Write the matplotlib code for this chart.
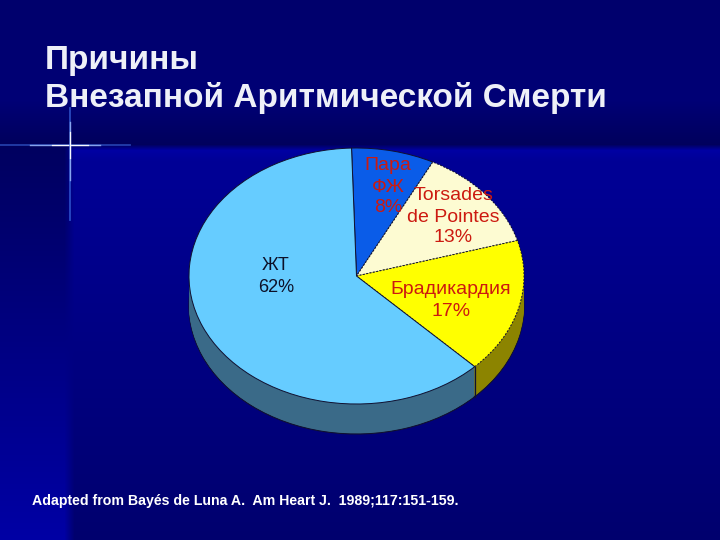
import numpy as np
import matplotlib
matplotlib.use("Agg")
import matplotlib.pyplot as plt

plt.rcParams['font.family'] = ['Liberation Sans', 'DejaVu Sans']

# Data
categories = ['Пара ФЖ', 'Torsades de Pointes', 'Брадикардия', 'ЖТ']
values = [8, 13, 17, 62]
top_colors = ['#0a5ce8', '#fdfbd2', '#ffff00', '#66ccff']
side_colors = ['#06348a', '#8c8a60', '#8c8400', '#3a6a88']
title_lines = ['Причины', 'Внезапной Аритмической Смерти']
source = 'Adapted from Bayés de Luna A.  Am Heart J.  1989;117:151-159.'

W, H = 720, 540
fig = plt.figure(figsize=(7.2, 5.4), dpi=100)

# Background
bg = fig.add_axes([0, 0, 1, 1])
bg.set_xlim(0, W); bg.set_ylim(H, 0); bg.axis('off')
yy, xx = np.mgrid[0:H, 0:W].astype(float)
top_band = np.interp(yy, [0, 100, 145], [108, 118, 92])
left_strip = np.interp(yy, [148, 540], [96, 165])
inner = np.interp(yy, [148, 160, 540], [165, 150, 110])
lower = left_strip + (inner - left_strip) * np.clip((xx - 64) / 10.0, 0, 1)
blue = top_band + (lower - top_band) * np.clip((yy - 144) / 6.0, 0, 1)
base = np.dstack([np.zeros_like(blue), np.zeros_like(blue), blue / 255.0])
bg.imshow(base, extent=(0, W, H, 0), aspect='auto', zorder=0, interpolation='bilinear')

# Sparkle
cx, cy = 70, 145
bg.plot([0, 130], [cy, cy], color='#3f6fe8', alpha=0.55, lw=1.3, zorder=1)
bg.plot([30, 100], [cy, cy], color='#9fbcff', alpha=0.8, lw=1.0, zorder=1)
bg.plot([52, 88], [cy, cy], color='white', alpha=0.95, lw=0.9, zorder=1)
bg.plot([cx, cx], [108, 220], color='#3f6fe8', alpha=0.65, lw=1.3, zorder=1)
bg.plot([cx, cx], [122, 180], color='#9fbcff', alpha=0.8, lw=1.0, zorder=1)
bg.plot([cx, cx], [132, 158], color='white', alpha=0.95, lw=0.9, zorder=1)

# Pie
pcx, pcy, rx, ry, depth = 356.5, 276, 167.5, 128, 30
start = 91.7
EDGE = '#101030'

def pie_axes(dy):
    return fig.add_axes([(pcx - rx) / W, 1 - (pcy + dy + ry) / H, 2 * rx / W, 2 * ry / H])

def draw_layer(dy, colors, visible, **wedgeprops):
    ax = pie_axes(dy)
    wedges, _ = ax.pie(values, colors=colors, startangle=start, counterclock=False, radius=1,
                       wedgeprops=wedgeprops)
    for w, v in zip(wedges, visible):
        w.set_visible(v)
    ax.set_xlim(-1, 1); ax.set_ylim(-1, 1); ax.set_aspect('auto'); ax.patch.set_alpha(0)
    return wedges

# side walls: the right-hand slices first, the big slice over them
draw_layer(depth, side_colors, [True, True, True, False], linewidth=0.8, edgecolor=EDGE)
for dy in range(depth - 1, 0, -1):
    draw_layer(dy, side_colors, [True, True, True, False], linewidth=0)
draw_layer(depth, side_colors, [False, False, False, True], linewidth=0.8, edgecolor=EDGE)
for dy in range(depth - 1, 0, -1):
    draw_layer(dy, side_colors, [False, False, False, True], linewidth=0)

wedges = draw_layer(0, top_colors, [True] * 4, linewidth=0.7, edgecolor=EDGE)
wedges[1].set_linestyle((0, (2, 1.5)))
wedges[2].set_linestyle((0, (2, 1.5)))

# Overlay
ov = fig.add_axes([0, 0, 1, 1])
ov.set_xlim(0, W); ov.set_ylim(H, 0); ov.axis('off'); ov.patch.set_alpha(0)

theta = np.deg2rad(start - 360 * sum(values[:3]) / sum(values))
ex, ey = pcx + rx * np.cos(theta), pcy - ry * np.sin(theta)
ov.plot([ex, ex], [ey, ey + depth], color=EDGE, lw=0.9)

ov.text(45, 60, title_lines[0], color='#eef0f8', fontsize=24, fontweight='bold', va='center', ha='left')
ov.text(45, 98, title_lines[1], color='#eef0f8', fontsize=24, fontweight='bold', va='center', ha='left')

red = '#cc1a10'
lab = dict(color=red, fontsize=14, ha='center', va='center')
ov.text(388, 165, 'Пара', **lab)
ov.text(388, 187, 'ФЖ', **lab)
ov.text(388, 207, f'{values[0]}%', **lab)
ov.text(454, 196, 'Torsades', **lab)
ov.text(453, 218, 'de Pointes', **lab)
ov.text(453, 238, f'{values[1]}%', **lab)
ov.text(451, 290, categories[2], **lab)
ov.text(451, 312, f'{values[2]}%', **lab)
ov.text(276, 265, categories[3], color='#0c1028', fontsize=13, ha='center', va='center')
ov.text(276, 288, f'{values[3]}%', color='#0c1028', fontsize=13, ha='center', va='center')

ov.text(32, 501, source, color='white', fontsize=10.2, fontweight='bold', ha='left', va='center')

fig.savefig('out.png', dpi=100, facecolor='#00005c')
